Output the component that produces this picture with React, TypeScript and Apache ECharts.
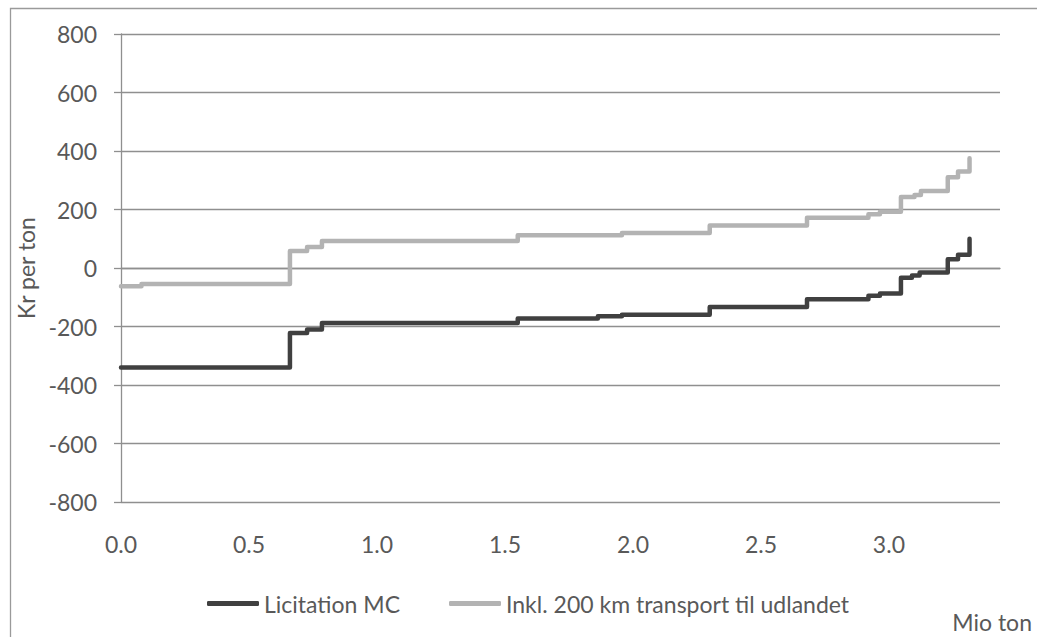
import React, { useEffect, useRef } from "react";
import * as echarts from "echarts";

// Step curves: each point marks where a new cost level starts (x in Mio ton, y in Kr per ton)
const licitationX = [0, 0.66, 0.727, 0.785, 1.55, 1.863, 1.957, 2.3, 2.68, 2.92, 2.965, 3.047, 3.09, 3.12, 3.23, 3.27, 3.315];
const licitationY = [-340, -222, -210, -188, -173, -165, -160, -133, -107, -95, -87, -33, -26, -15, 30, 45, 100];

const transportX = [0, 0.08, 0.66, 0.727, 0.785, 1.55, 1.957, 2.3, 2.68, 2.92, 2.965, 3.047, 3.1, 3.125, 3.23, 3.27, 3.315];
const transportY = [-62, -55, 58, 72, 92, 112, 120, 145, 172, 184, 192, 243, 250, 263, 310, 330, 375];

const seriesNames = ["Licitation MC", "Inkl. 200 km transport til udlandet"];
const yTicks = { min: -800, max: 800, step: 200 };
const xTicks = { min: 0, max: 3.434, step: 0.5 };

const FONT = "Lato";
const TEXT = "#595959";
const GRID = "#8f8f8f";

export default function App() {
  const ref = useRef<HTMLDivElement>(null);

  useEffect(() => {
    if (!ref.current) return;
    const chart = echarts.init(ref.current, null, { renderer: "svg" });
    const pair = (xs: number[], ys: number[]) => xs.map((x, i) => [x, ys[i]]);

    chart.setOption({
      animation: false,
      backgroundColor: "#ffffff",
      textStyle: { fontFamily: FONT, color: TEXT },
      grid: { left: 121, right: 37, top: 34, bottom: 135 },
      legend: {
        left: 202,
        top: 587,
        itemWidth: 52,
        itemHeight: 5,
        itemGap: 49,
        icon: "roundRect",
        textStyle: { fontFamily: FONT, fontSize: 23, color: TEXT },
        data: seriesNames,
      },
      xAxis: {
        type: "value",
        min: xTicks.min,
        max: xTicks.max,
        interval: xTicks.step,
        axisLine: { show: true, lineStyle: { color: GRID, width: 1.3 } },
        axisTick: { show: false },
        splitLine: { show: false },
        axisLabel: {
          margin: 30,
          fontFamily: FONT,
          fontSize: 23,
          color: TEXT,
          showMaxLabel: false,
          formatter: (v: number) => v.toFixed(1),
        },
      },
      yAxis: {
        type: "value",
        min: yTicks.min,
        max: yTicks.max,
        interval: yTicks.step,
        name: "Kr per ton",
        nameLocation: "middle",
        nameGap: 77,
        nameTextStyle: { fontFamily: FONT, fontSize: 23, color: TEXT },
        axisLine: { show: true, lineStyle: { color: GRID, width: 1.3 } },
        axisTick: { show: true, length: 7, lineStyle: { color: GRID, width: 1.3 } },
        splitLine: { show: true, lineStyle: { color: GRID, width: 1.3 } },
        axisLabel: { margin: 24, fontFamily: FONT, fontSize: 23, color: TEXT },
      },
      graphic: [
        {
          type: "rect",
          shape: { x: 10.5, y: 8.5, width: 1060, height: 660 },
          style: { fill: "none", stroke: "#9a9a9a", lineWidth: 1.3 },
          silent: true,
        },
        {
          type: "text",
          x: 1032,
          y: 622,
          style: {
            text: "Mio ton",
            fontFamily: FONT,
            fontSize: 23,
            fill: TEXT,
            textAlign: "right",
            textVerticalAlign: "middle",
          },
        },
      ],
      series: [
        {
          name: seriesNames[0],
          type: "line",
          step: "end",
          showSymbol: false,
          symbol: "none",
          color: "#404040",
          lineStyle: { width: 4.5, color: "#404040", cap: "round", join: "round" },
          data: pair(licitationX, licitationY),
        },
        {
          name: seriesNames[1],
          type: "line",
          step: "end",
          showSymbol: false,
          symbol: "none",
          color: "#b3b3b3",
          lineStyle: { width: 4.5, color: "#b3b3b3", cap: "round", join: "round" },
          data: pair(transportX, transportY),
        },
      ],
    });

    return () => chart.dispose();
  }, []);

  return (
    <div
      ref={ref}
      style={{ position: "absolute", left: 0, top: 0, width: 1037, height: 637 }}
    />
  );
}
